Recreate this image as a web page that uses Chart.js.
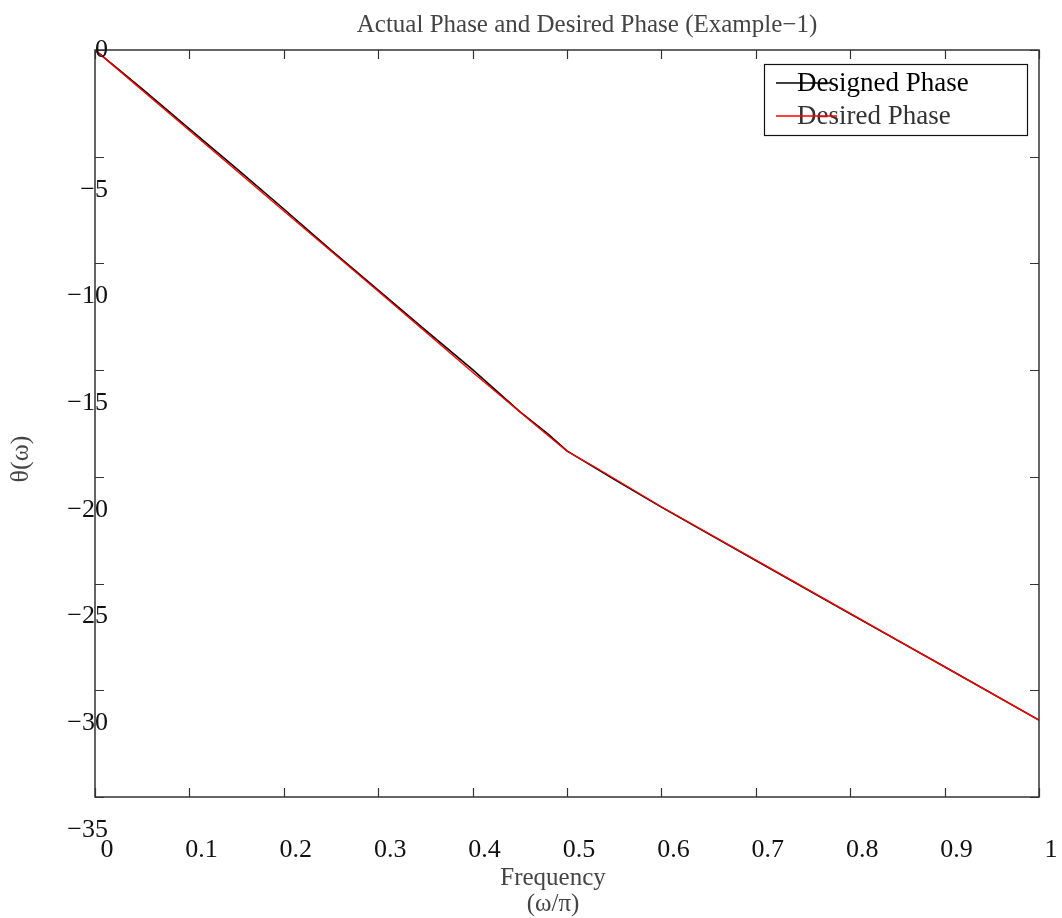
<!DOCTYPE html>
<html>
<head>
<meta charset="utf-8">
<script src="https://cdn.jsdelivr.net/npm/chart.js@4/dist/chart.umd.min.js"></script>
<style>
  html, body { margin: 0; padding: 0; background: #fff; }
  #wrap { width: 1062px; height: 918px; }
</style>
</head>
<body>
<div id="wrap"><canvas id="phaseChart"></canvas></div>
<script>
// values
const freqDesigned = [0, 0.05, 0.1, 0.15, 0.2, 0.25, 0.3, 0.35, 0.4, 0.45, 0.48, 0.5, 0.55, 0.6, 0.7, 0.8, 0.9, 1.0];
const phaseDesigned = [0, -1.82, -3.7, -5.56, -7.45, -9.38, -11.25, -13.13, -14.98, -16.94, -18.0, -18.78, -20.12, -21.42, -23.92, -26.42, -28.9, -31.4];
const freqDesired = [0, 0.1, 0.2, 0.3, 0.4, 0.47, 0.5, 0.53, 0.6, 0.7, 0.8, 0.9, 1.0];
const phaseDesired = [0, -3.77, -7.54, -11.3, -15.1, -17.7, -18.8, -19.55, -21.4, -23.9, -26.4, -28.9, -31.4];

const xTicks = [0, 0.1, 0.2, 0.3, 0.4, 0.5, 0.6, 0.7, 0.8, 0.9, 1];
const xTickLabels = ['0', '0.1', '0.2', '0.3', '0.4', '0.5', '0.6', '0.7', '0.8', '0.9', '1'];
const yTicks = [0, -5, -10, -15, -20, -25, -30, -35];
const yTickLabels = ['0', '\u22125', '\u221210', '\u221215', '\u221220', '\u221225', '\u221230', '\u221235'];
const seriesNames = ['Designed Phase', 'Desired Phase'];
const chartTitle = 'Actual Phase and Desired Phase (Example\u22121)';

const serif = '"Liberation Serif", "DejaVu Serif", serif';

function toPoints(xs, ys) {
    return xs.map((x, i) => ({ x: x, y: ys[i] }));
}

// box, inward ticks, tick labels, titles and the legend, matlab style
const matlabAxes = {
    id: 'matlabAxes',
    afterDatasetsDraw(chart) {
        const ctx = chart.ctx;
        const xs = chart.scales.x;
        const ys = chart.scales.y;
        const area = chart.chartArea;
        const tl = 9;

        ctx.save();
        ctx.lineWidth = 1.5;
        ctx.strokeStyle = '#333';
        ctx.strokeRect(area.left, area.top, area.right - area.left, area.bottom - area.top);

        ctx.beginPath();
        xTicks.forEach(v => {
            const px = Math.round(xs.getPixelForValue(v)) + 0.5;
            ctx.moveTo(px, area.top); ctx.lineTo(px, area.top + tl);
            ctx.moveTo(px, area.bottom); ctx.lineTo(px, area.bottom - tl);
        });
        yTicks.forEach(v => {
            const py = Math.round(ys.getPixelForValue(v)) + 0.5;
            ctx.moveTo(area.left, py); ctx.lineTo(area.left + tl, py);
            ctx.moveTo(area.right, py); ctx.lineTo(area.right - tl, py);
        });
        ctx.lineWidth = 1.2;
        ctx.stroke();

        // tick labels
        ctx.fillStyle = '#111';
        ctx.font = '26px ' + serif;
        ctx.textAlign = 'center';
        ctx.textBaseline = 'middle';
        xTicks.forEach((v, i) => {
            ctx.fillText(xTickLabels[i], xs.getPixelForValue(v) + 12, area.bottom + 53);
        });
        ctx.textAlign = 'right';
        yTicks.forEach((v, i) => {
            const off = i === 0 ? 0 : 33;
            ctx.fillText(yTickLabels[i], area.left + 13, ys.getPixelForValue(v) + off);
        });

        // titles
        ctx.fillStyle = '#444';
        ctx.textAlign = 'center';
        ctx.font = '25px ' + serif;
        ctx.fillText(chartTitle, 587, 25);
        ctx.fillText('Frequency', 553, 878);
        ctx.fillText('(\u03c9/\u03c0)', 553, 904);
        ctx.save();
        ctx.translate(21, 459);
        ctx.rotate(-Math.PI / 2);
        ctx.font = '26px ' + serif;
        ctx.fillText('\u03b8(\u03c9)', 0, 0);
        ctx.restore();

        // legend
        const lx = 764, ly = 64, lw = 263, lh = 71;
        ctx.fillStyle = '#fff';
        ctx.fillRect(lx, ly, lw, lh);
        ctx.lineWidth = 1.2;
        ctx.strokeStyle = '#111';
        ctx.strokeRect(lx + 0.5, ly + 0.5, lw, lh);
        const rows = [
            { y: 83, color: '#000', text: '#000', end: 830 },
            { y: 116, color: '#ff0000', text: '#333', end: 837 }
        ];
        ctx.font = '27px ' + serif;
        ctx.textAlign = 'left';
        rows.forEach((r, i) => {
            ctx.fillStyle = r.text;
            ctx.fillText(seriesNames[i], 797, r.y + 1);
            ctx.beginPath();
            ctx.strokeStyle = r.color;
            ctx.lineWidth = 1.3;
            ctx.moveTo(776, r.y);
            ctx.lineTo(r.end, r.y);
            ctx.stroke();
        });
        ctx.restore();
    }
};

const ctx = document.getElementById('phaseChart').getContext('2d');
new Chart(ctx, {
    type: 'line',
    data: {
        datasets: [
            {
                label: seriesNames[0],
                data: toPoints(freqDesigned, phaseDesigned),
                borderColor: '#000',
                borderWidth: 1.6,
                pointRadius: 0,
                tension: 0,
                order: 2
            },
            {
                label: seriesNames[1],
                data: toPoints(freqDesired, phaseDesired),
                borderColor: '#ff0000',
                borderWidth: 1.4,
                pointRadius: 0,
                tension: 0,
                order: 1
            }
        ]
    },
    options: {
        responsive: true,
        maintainAspectRatio: false,
        animation: false,
        layout: { padding: { left: 95, right: 23, top: 50, bottom: 121 } },
        plugins: {
            legend: { display: false },
            tooltip: { enabled: false },
            title: { display: false }
        },
        scales: {
            x: { type: 'linear', display: false, min: 0, max: 1 },
            y: { type: 'linear', display: false, min: -35, max: 0 }
        }
    },
    plugins: [matlabAxes]
});
</script>
</body>
</html>
